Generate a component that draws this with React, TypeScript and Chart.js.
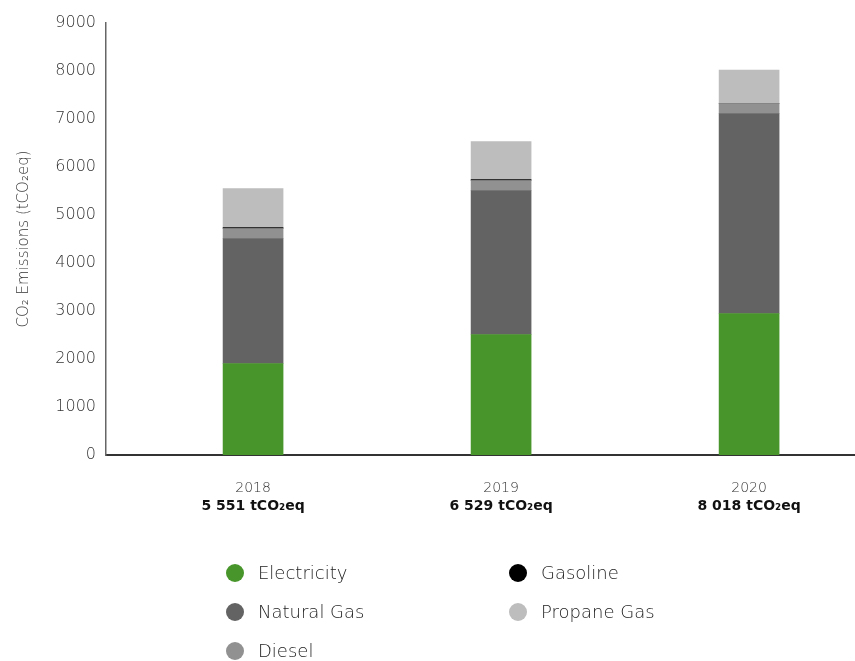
import React, { useEffect, useRef } from "react";
import { Chart, registerables } from "chart.js";

Chart.register(...registerables);

const years = ["2018", "2019", "2020"];
const totals = ["5 551 tCO₂eq", "6 529 tCO₂eq", "8 018 tCO₂eq"];
const xPositions = [0, 1, 2];

const electricity = [1906, 2510, 2948];
const naturalGas = [2604, 3000, 4167];
const diesel = [209, 209, 208];
const gasoline = [20, 20, 0];
const propaneGas = [812, 790, 695];

const seriesNames = ["Electricity", "Natural Gas", "Diesel", "Gasoline", "Propane Gas"];
const seriesColors = ["#48962b", "#636363", "#919191", "#000000", "#bdbdbd"];
const seriesValues = [electricity, naturalGas, diesel, gasoline, propaneGas];

const yTicks = [0, 1000, 2000, 3000, 4000, 5000, 6000, 7000, 8000, 9000];

const FONT = "'DejaVu Sans', 'Noto Sans', sans-serif";

export default function App() {
  const ref = useRef<HTMLCanvasElement | null>(null);

  useEffect(() => {
    if (!ref.current) return;
    const chart = new Chart(ref.current, {
      type: "bar",
      data: {
        datasets: seriesNames.map((name, i) => ({
          label: name,
          data: seriesValues[i].map((v, j) => ({ x: xPositions[j], y: v })),
          backgroundColor: seriesColors[i],
          borderWidth: 0,
          barThickness: 60,
          xAxisID: "x",
          yAxisID: "y",
        })),
      },
      options: {
        animation: false,
        responsive: false,
        maintainAspectRatio: false,
        layout: { padding: { top: 23, left: 0, right: 0, bottom: 8 } },
        plugins: {
          legend: { display: false },
          tooltip: { enabled: false },
        },
        scales: {
          x: {
            type: "linear",
            stacked: true,
            offset: false,
            min: -0.593,
            max: 2.427,
            grid: { display: false, drawTicks: false, offset: false },
            border: { display: true, color: "#333333", width: 2 },
            afterBuildTicks: (scale: any) => {
              scale.ticks = xPositions.map((v) => ({ value: v }));
            },
            afterFit: (scale: any) => {
              scale.height = 43;
            },
            ticks: {
              padding: 25,
              color: "#333333",
              font: { family: FONT, size: 14, weight: "300" },
              autoSkip: false,
              maxRotation: 0,
              callback: (value: any) => years[xPositions.indexOf(Number(value))] ?? "",
            },
          },
          x2: {
            type: "linear",
            position: "bottom",
            offset: false,
            min: -0.593,
            max: 2.427,
            grid: { display: false, drawTicks: false, offset: false },
            border: { display: false },
            afterBuildTicks: (scale: any) => {
              scale.ticks = xPositions.map((v) => ({ value: v }));
            },
            afterFit: (scale: any) => {
              scale.height = 24;
            },
            ticks: {
              padding: 0,
              color: "#111111",
              font: { family: FONT, size: 14, weight: "bold" },
              autoSkip: false,
              maxRotation: 0,
              callback: (value: any) => totals[xPositions.indexOf(Number(value))] ?? "",
            },
          },
          y: {
            stacked: true,
            min: 0,
            max: 9000,
            grid: { display: false, drawTicks: false },
            border: { display: true, color: "#666666", width: 1.5 },
            afterBuildTicks: (scale: any) => {
              scale.ticks = yTicks.map((v) => ({ value: v }));
            },
            afterFit: (scale: any) => {
              scale.width = 106;
            },
            title: {
              display: true,
              text: "CO₂ Emissions (tCO₂eq)",
              color: "#333333",
              font: { family: FONT, size: 15, weight: "300" },
              padding: { top: 15, bottom: 0 },
            },
            ticks: {
              padding: 10,
              color: "#333333",
              font: { family: FONT, size: 16, weight: "300" },
              callback: (value: any) => String(value),
            },
          },
        },
      },
    });
    return () => chart.destroy();
  }, []);

  const legendOrder = [0, 1, 2, 3, 4];

  return (
    <div style={{ position: "fixed", left: 0, top: 0, width: 855, height: 661, background: "#fff" }}>
      <canvas ref={ref} width={855} height={530} style={{ display: "block", width: 855, height: 530 }} />
      <div
        style={{
          position: "absolute",
          left: 226,
          top: 553,
          display: "grid",
          gridTemplateColumns: "283px auto",
          gridTemplateRows: "repeat(3, 39px)",
          gridAutoFlow: "column",
          fontFamily: FONT,
          fontSize: 18,
          fontWeight: 300,
          color: "#222222",
        }}
      >
        {legendOrder.map((i) => (
          <div key={seriesNames[i]} style={{ display: "flex", alignItems: "center" }}>
            <span
              style={{
                display: "inline-block",
                width: 18,
                height: 18,
                borderRadius: "50%",
                background: seriesColors[i],
                marginRight: 14,
              }}
            />
            <span>{seriesNames[i]}</span>
          </div>
        ))}
      </div>
    </div>
  );
}
